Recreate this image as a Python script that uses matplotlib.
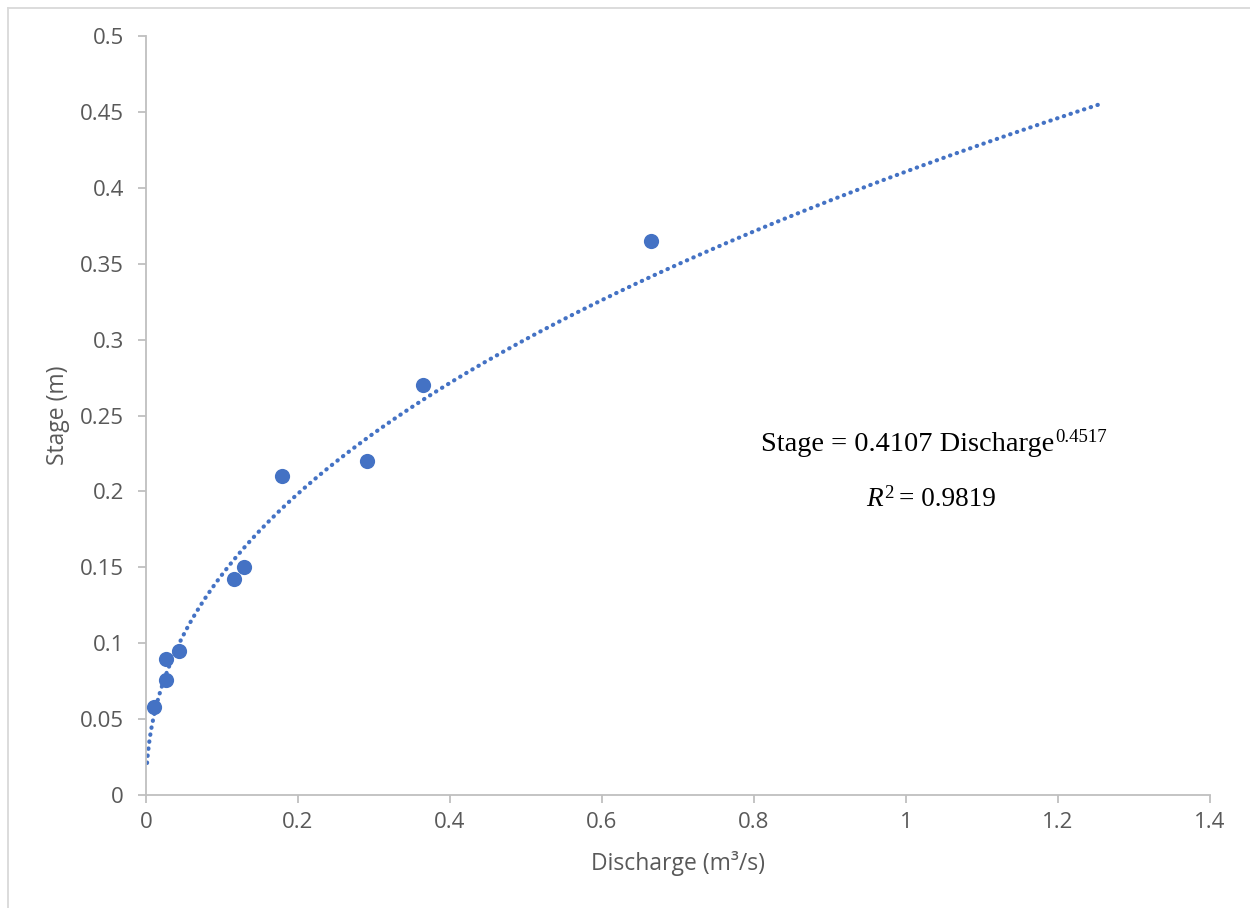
import matplotlib
matplotlib.use("Agg")
import matplotlib.pyplot as plt
import numpy as np
from matplotlib.lines import Line2D

# Data
discharge = [0.0105, 0.026, 0.026, 0.043, 0.116, 0.129, 0.179, 0.291, 0.364, 0.664]
stage = [0.058, 0.076, 0.0895, 0.095, 0.142, 0.150, 0.210, 0.220, 0.270, 0.365]

# Power trendline coefficients (from chart label)
coef_a = 0.4107
coef_b = 0.4517
r2 = 0.9819
trend_xmin = 0.0014
trend_xmax = 1.26

x_ticks = [0, 0.2, 0.4, 0.6, 0.8, 1.0, 1.2, 1.4]
x_ticklabels = ["0", "0.2", "0.4", "0.6", "0.8", "1", "1.2", "1.4"]
y_ticks = [0, 0.05, 0.1, 0.15, 0.2, 0.25, 0.3, 0.35, 0.4, 0.45, 0.5]
y_ticklabels = ["0", "0.05", "0.1", "0.15", "0.2", "0.25", "0.3", "0.35", "0.4", "0.45", "0.5"]

plt.rcParams['font.family'] = ['Open Sans', 'DejaVu Sans']

W, H = 1250, 908
fig = plt.figure(figsize=(W / 100, H / 100), dpi=100)
ax = fig.add_axes([146 / W, 1 - 795 / H, (1210 - 146) / W, (795 - 36) / H])

blue = '#4472C4'
gray = '#BFBFBF'
txt = '#595959'

xs = np.linspace(trend_xmin, trend_xmax, 1500)
ax.plot(xs, coef_a * xs ** coef_b, color=blue, lw=3.0, dashes=(0.1, 1.6),
        dash_capstyle='round', zorder=2)
ax.scatter(discharge, stage, s=120, color=blue, zorder=3, linewidths=0)

ax.set_xlim(0, 1.4)
ax.set_ylim(0, 0.5)
ax.set_xticks(x_ticks)
ax.set_xticklabels(x_ticklabels)
ax.set_yticks(y_ticks)
ax.set_yticklabels(y_ticklabels)

for s in ['top', 'right']:
    ax.spines[s].set_visible(False)
for s in ['left', 'bottom']:
    ax.spines[s].set_color(gray)
    ax.spines[s].set_linewidth(1.3)
ax.tick_params(axis='both', colors=gray, labelcolor=txt, labelsize=16,
               length=6, width=1.3, direction='out')
ax.tick_params(axis='x', pad=6)
ax.tick_params(axis='y', pad=10)

ax.set_xlabel('Discharge (m³/s)', fontsize=16.5, color=txt, labelpad=13)
ax.set_ylabel('Stage (m)', fontsize=16.5, color=txt, labelpad=7)

# Equation annotation laid out in pixel coordinates
renderer = fig.canvas.get_renderer()
serif = 'Liberation Serif'


def runs_line(runs, cx, base):
    """runs: list of (text, size, style, rise_px, gap_before_px)."""
    arts = []
    total = 0.0
    for s, size, style, rise, gap in runs:
        t = fig.text(0, 0, s, fontsize=size, family=serif, style=style,
                     ha='left', va='baseline', color='black', transform=None)
        w = t.get_window_extent(renderer).width
        arts.append((t, w, rise, gap))
        total += w + gap
    x = cx - total / 2.0
    for t, w, rise, gap in arts:
        x += gap
        t.set_position((x, H - base + rise))
        x += w


runs_line([('Stage = %.4f Discharge' % coef_a, 20.4, 'normal', 0, 0),
           ('%.4f' % coef_b, 13.5, 'normal', 9, 1)], 934, 451)
runs_line([('R', 19.6, 'italic', 0, 0),
           ('2', 13.5, 'normal', 8, 1),
           ('= %.4f' % r2, 19.6, 'normal', 0, 6)], 931, 506)

# Chart border (left and top edges visible)
fig.add_artist(Line2D([7.5 / W, 7.5 / W], [0, 1 - 7.5 / H], transform=fig.transFigure,
                      color='#D9D9D9', lw=1.3))
fig.add_artist(Line2D([7.5 / W, 1], [1 - 7.5 / H, 1 - 7.5 / H], transform=fig.transFigure,
                      color='#D9D9D9', lw=1.3))

fig.savefig('out.png', dpi=100, facecolor='white')
